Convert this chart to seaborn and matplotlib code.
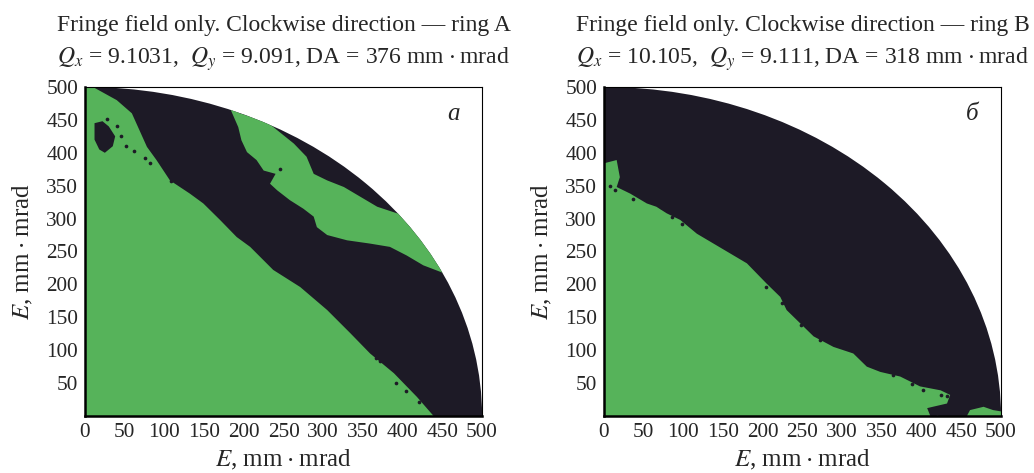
import numpy as np
import matplotlib
matplotlib.use("Agg")
import matplotlib.pyplot as plt
import seaborn as sns
from matplotlib.patches import Wedge

sns.set_theme(style="white")
plt.rcParams["font.family"] = ["Liberation Serif", "DejaVu Serif"]
plt.rcParams["mathtext.fontset"] = "stix"

GREEN = "#56b35a"
DARK = "#1d1a26"
RADIUS = 500

# ---- ring A (panel a): boundaries, in mm*mrad ----
a_main_x = [0, 0, 10, 40, 59, 78, 90, 107, 132, 149, 170, 191, 208, 237, 271, 305, 334, 359, 389, 418, 439]
a_main_y = [0, 500, 500, 480, 460, 409, 389, 358, 338, 323, 298, 272, 257, 222, 196, 161, 126, 95, 65, 29, 0]
a_band_x = [195, 229, 263, 279, 288, 305, 326, 347, 368, 393, 470, 520, 452, 426, 405, 384, 359, 330, 305,
            292, 288, 275, 258, 242, 233, 240, 225, 216, 204, 197, 193, 180]
a_band_y = [460, 447, 414, 394, 368, 358, 348, 333, 318, 308, 320, 240, 217, 229, 244, 257, 262, 267, 275,
            287, 303, 315, 328, 343, 353, 368, 373, 389, 401, 419, 439, 475]
a_hole_x = [12, 22, 30, 38, 35, 25, 18, 12]
a_hole_y = [445, 448, 440, 425, 410, 400, 405, 420]
a_dots_x = [28, 40, 45, 52, 62, 76, 82, 108, 366, 372, 392, 404, 420, 245]
a_dots_y = [452, 440, 425, 410, 402, 392, 384, 357, 88, 84, 50, 38, 22, 375]

# ---- ring B (panel б) ----
b_main_x = [0, 0, 16, 20, 16, 33, 54, 66, 79, 96, 117, 138, 159, 180, 205, 222, 230, 247, 264, 289, 314,
            331, 348, 373, 398, 424, 436, 432, 407, 411]
b_main_y = [0, 384, 389, 363, 348, 338, 323, 318, 308, 298, 277, 262, 247, 232, 201, 181, 161, 141, 121,
            105, 95, 75, 67, 60, 45, 39, 32, 19, 12, 0]
b_tail_x = [457, 461, 478, 490, 500, 500]
b_tail_y = [0, 9, 14, 9, 7, 0]
b_dots_x = [8, 14, 36, 72, 86, 98, 204, 224, 248, 272, 364, 388, 402, 424, 432, 412, 420]
b_dots_y = [350, 343, 330, 318, 302, 292, 196, 172, 138, 116, 62, 48, 40, 32, 30, 8, 5]

panels = [
    dict(ring="A", qx="9.1031", qy="9.091", da="376", tag="a",
         greens=[(a_main_x, a_main_y), (a_band_x, a_band_y)], holes=[(a_hole_x, a_hole_y)],
         dots=(a_dots_x, a_dots_y)),
    dict(ring="B", qx="10.105", qy="9.111", da="318", tag="б",
         greens=[(b_main_x, b_main_y), (b_tail_x, b_tail_y)], holes=[],
         dots=(b_dots_x, b_dots_y)),
]

UNIT = "mm\u2009" + r"$\cdot$" + "\u2009mrad"

fig = plt.figure(figsize=(10.34, 4.73), dpi=100)
lefts = [0.0822, 0.5841]

for left, p in zip(lefts, panels):
    ax = fig.add_axes([left, 0.1205, 0.384, 0.6956])
    ax.set_xlim(0, 500)
    ax.set_ylim(0, 500)

    disk = Wedge((0, 0), RADIUS, 0, 90, facecolor=DARK, edgecolor="none", zorder=1)
    ax.add_patch(disk)
    for gx, gy in p["greens"]:
        poly = ax.fill(gx, gy, color=GREEN, lw=0, zorder=2)[0]
        poly.set_clip_path(disk)
    for hx, hy in p["holes"]:
        ax.fill(hx, hy, color=DARK, lw=0, zorder=3)
    sns.scatterplot(x=p["dots"][0], y=p["dots"][1], color=DARK, s=7, linewidth=0, ax=ax, zorder=3)

    ax.set_xticks(np.arange(0, 501, 50))
    ax.set_yticks(np.arange(50, 501, 50))
    ax.tick_params(length=0, labelsize=15.3, pad=5)
    ax.set_xlabel(r"$E$, " + UNIT, fontsize=18, labelpad=4)
    ax.set_ylabel(r"$E$, " + UNIT, fontsize=18, labelpad=8)
    ax.set_title("Fringe field only. Clockwise direction — ring " + p["ring"] + "\n"
                 + r"$Q_x$ = " + p["qx"] + r",  $Q_y$ = " + p["qy"] + ", DA = " + p["da"]
                 + " " + UNIT, fontsize=17, linespacing=1.5, pad=17)
    ax.text(464, 459, p["tag"], fontsize=18, style="italic", ha="center", va="center")

    for side in ["left", "bottom"]:
        ax.spines[side].set_linewidth(1.8)
        ax.spines[side].set_color("black")
    for side in ["top", "right"]:
        ax.spines[side].set_linewidth(0.8)
        ax.spines[side].set_color("black")

fig.savefig("out.png", dpi=100)
